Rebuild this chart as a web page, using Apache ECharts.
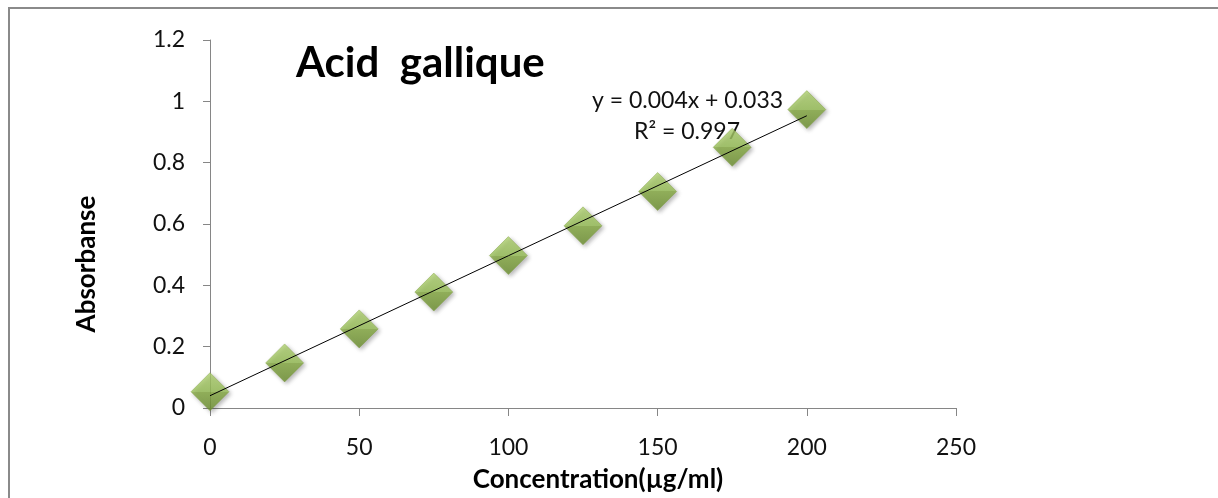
<!DOCTYPE html>
<html>
<head>
<meta charset="utf-8">
<script src="https://cdn.jsdelivr.net/npm/echarts@6/dist/echarts.min.js"></script>
<style>
  html, body { margin: 0; padding: 0; background: #fff; }
  #chart { width: 1218px; height: 498px; }
</style>
</head>
<body>
<div id="chart"></div>
<script>
// données
var concentration = [0, 25, 50, 75, 100, 125, 150, 175, 200];
var absorbance = [0.053, 0.147, 0.258, 0.378, 0.497, 0.594, 0.706, 0.85, 0.973];
// courbe de tendance (extrémités lues)
var trendX = [0, 200];
var trendY = [0.04, 0.953];
var equation = ['y = 0.004x + 0.033', 'R\u00b2 = 0.997'];

var chart = echarts.init(document.getElementById('chart'));

var points = [];
for (var i = 0; i < concentration.length; i++) {
  points.push([concentration[i], absorbance[i]]);
}
var trend = [];
for (var j = 0; j < trendX.length; j++) {
  trend.push([trendX[j], trendY[j]]);
}

var font = 'Lato, "Open Sans", sans-serif';

var option = {
  backgroundColor: '#fff',
  animation: false,
  title: {
    text: 'Acid  gallique',
    left: 291,
    top: 37,
    textStyle: { fontFamily: font, fontSize: 42, fontWeight: 'bold', color: '#000' }
  },
  grid: { left: 210, right: 262, top: 40, bottom: 90 },
  xAxis: {
    type: 'value',
    min: 0, max: 250, interval: 50,
    name: 'Concentration(\u00b5g/ml)',
    nameLocation: 'middle',
    nameGap: 59,
    nameTextStyle: { fontFamily: font, fontSize: 26, fontWeight: 'bold', color: '#000', padding: [0, 0, 0, 30] },
    axisLine: { show: true, lineStyle: { color: '#868686', width: 1 } },
    axisTick: { show: true, length: 8, lineStyle: { color: '#868686' } },
    axisLabel: { fontFamily: font, fontSize: 23, color: '#111', margin: 28 },
    splitLine: { show: false }
  },
  yAxis: {
    type: 'value',
    min: 0, max: 1.2, interval: 0.2,
    name: 'Absorbanse',
    nameLocation: 'middle',
    nameGap: 110,
    nameRotate: 90,
    nameTextStyle: { fontFamily: font, fontSize: 26, fontWeight: 'bold', color: '#000', padding: [0, 80, 0, 0] },
    axisLine: { show: true, lineStyle: { color: '#868686', width: 1 } },
    axisTick: { show: true, length: 7, lineStyle: { color: '#868686' } },
    axisLabel: { fontFamily: font, fontSize: 23, color: '#111', margin: 25 },
    splitLine: { show: false }
  },
  graphic: [
    {
      type: 'rect',
      z: -1,
      shape: { x: 9, y: 8, width: 1240, height: 520 },
      style: { fill: 'none', stroke: '#8a8a8a', lineWidth: 2 }
    },
    {
      type: 'text',
      left: 592,
      top: 89,
      style: { text: equation[0], fontFamily: font, fontSize: 23, fill: '#111' }
    },
    {
      type: 'text',
      left: 634,
      top: 120,
      style: { text: equation[1], fontFamily: font, fontSize: 23, fill: '#111' }
    }
  ],
  series: [
    {
      type: 'scatter',
      symbol: 'diamond',
      symbolSize: 38,
      z: 2,
      itemStyle: {
        color: new echarts.graphic.LinearGradient(0, 0, 0, 1, [
          { offset: 0, color: '#b0d270' },
          { offset: 0.5, color: '#98c056' },
          { offset: 0.5, color: '#86ab42' },
          { offset: 1, color: '#6c8f2f' }
        ]),
        borderColor: '#7a9c38',
        borderWidth: 0.5,
        shadowBlur: 4,
        shadowOffsetX: 2,
        shadowOffsetY: 2,
        shadowColor: 'rgba(0,0,0,0.35)'
      },
      data: points
    },
    {
      type: 'line',
      z: 3,
      symbol: 'none',
      lineStyle: { color: '#000', width: 1 },
      data: trend
    }
  ]
};

chart.setOption(option);
</script>
</body>
</html>
